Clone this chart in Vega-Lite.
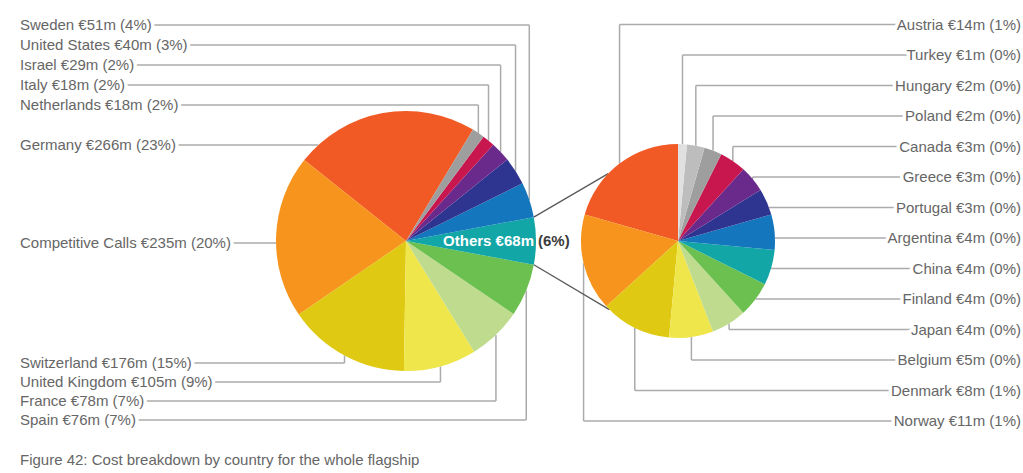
{
  "$schema": "https://vega.github.io/schema/vega-lite/v6.json",
  "width": 1023,
  "height": 473,
  "autosize": {"type": "fit", "contains": "padding"},
  "padding": 0,
  "background": "white",
  "config": {"view": {"stroke": null}, "text": {"font": "Liberation Sans"}},
  "params": [
    {"name": "cx1", "value": 406},
    {"name": "cx2", "value": 678},
    {"name": "cyc", "value": 241},
    {"name": "r1", "value": 130},
    {"name": "r2", "value": 97},
    {"name": "startMain", "value": 0.5415},
    {"name": "startOthers", "value": 6.2832},
    {"name": "joinUpper", "value": 5.48},
    {"name": "joinLower", "value": 3.927}
  ],
  "layer": [
    {
      "data": {
        "values": [
          {"pie": "main", "country": "Germany", "value": 266, "pct": 23, "rank": 0, "slot": 5},
          {"pie": "main", "country": "Competitive Calls", "value": 235, "pct": 20, "rank": 1, "slot": 6},
          {"pie": "main", "country": "Switzerland", "value": 176, "pct": 15, "rank": 2, "slot": 7},
          {"pie": "main", "country": "United Kingdom", "value": 105, "pct": 9, "rank": 3, "slot": 8},
          {"pie": "main", "country": "France", "value": 78, "pct": 7, "rank": 4, "slot": 9},
          {"pie": "main", "country": "Spain", "value": 76, "pct": 7, "rank": 5, "slot": 10},
          {"pie": "main", "country": "Others", "value": 68, "pct": 6, "rank": 6, "slot": null},
          {"pie": "main", "country": "Sweden", "value": 51, "pct": 4, "rank": 7, "slot": 0},
          {"pie": "main", "country": "United States", "value": 40, "pct": 3, "rank": 8, "slot": 1},
          {"pie": "main", "country": "Israel", "value": 29, "pct": 2, "rank": 9, "slot": 2},
          {"pie": "main", "country": "Italy", "value": 18, "pct": 2, "rank": 10, "slot": 3},
          {"pie": "main", "country": "Netherlands", "value": 18, "pct": 2, "rank": 11, "slot": 4},
          {"pie": "others", "country": "Austria", "value": 14, "pct": 1, "rank": 0, "slot": 0},
          {"pie": "others", "country": "Norway", "value": 11, "pct": 1, "rank": 1, "slot": 13},
          {"pie": "others", "country": "Denmark", "value": 8, "pct": 1, "rank": 2, "slot": 12},
          {"pie": "others", "country": "Belgium", "value": 5, "pct": 0, "rank": 3, "slot": 11},
          {"pie": "others", "country": "Japan", "value": 4, "pct": 0, "rank": 4, "slot": 10},
          {"pie": "others", "country": "Finland", "value": 4, "pct": 0, "rank": 5, "slot": 9},
          {"pie": "others", "country": "China", "value": 4, "pct": 0, "rank": 6, "slot": 8},
          {"pie": "others", "country": "Argentina", "value": 4, "pct": 0, "rank": 7, "slot": 7},
          {"pie": "others", "country": "Portugal", "value": 3, "pct": 0, "rank": 8, "slot": 6},
          {"pie": "others", "country": "Greece", "value": 3, "pct": 0, "rank": 9, "slot": 5},
          {"pie": "others", "country": "Canada", "value": 3, "pct": 0, "rank": 10, "slot": 4},
          {"pie": "others", "country": "Poland", "value": 2, "pct": 0, "rank": 11, "slot": 3},
          {"pie": "others", "country": "Hungary", "value": 2, "pct": 0, "rank": 12, "slot": 2},
          {"pie": "others", "country": "Turkey", "value": 1, "pct": 0, "rank": 13, "slot": 1}
        ]
      },
      "transform": [
        {"joinaggregate": [{"op": "sum", "field": "value", "as": "total"}], "groupby": ["pie"]},
        {"window": [{"op": "sum", "field": "value", "as": "cum"}], "groupby": ["pie"], "sort": [{"field": "rank", "order": "ascending"}], "frame": [null, 0]},
        {"calculate": "datum.pie === 'main' ? startMain : startOthers", "as": "anchor"},
        {"calculate": "datum.anchor - datum.cum / datum.total * 2 * PI", "as": "t0"},
        {"calculate": "datum.anchor - (datum.cum - datum.value) / datum.total * 2 * PI", "as": "t1"},
        {"calculate": "(datum.t0 + datum.t1) / 2", "as": "mid"},
        {"calculate": "datum.pie === 'main' ? cx1 : cx2", "as": "cx"},
        {"calculate": "cyc", "as": "cy"},
        {"calculate": "datum.pie === 'main' ? r1 : r2", "as": "r"},
        {"calculate": "datum.cx + datum.r * sin(datum.mid)", "as": "ex"},
        {"calculate": "datum.cy - datum.r * cos(datum.mid)", "as": "ey"},
        {"calculate": "datum.pie === 'main' ? (datum.slot <= 4 ? 25 + datum.slot * 20 : datum.slot === 5 ? 145 : datum.slot === 6 ? 243 : 363 + (datum.slot - 7) * 19) : 24.5 + datum.slot * 30.5", "as": "ly"},
        {"calculate": "datum.pie === 'main' ? 20 : 1021", "as": "lx"},
        {"calculate": "datum.ly - datum.cy", "as": "dy"},
        {"calculate": "pow(datum.ex - datum.cx, 2) + pow(datum.dy, 2) < datum.r * datum.r", "as": "inside"},
        {"calculate": "datum.inside ? datum.cx + (datum.ex < datum.cx ? -1 : 1) * sqrt(datum.r * datum.r - datum.dy * datum.dy) : datum.ex", "as": "vx"},
        {"calculate": "datum.inside ? datum.ly : datum.ey", "as": "vy"},
        {"calculate": "datum.country + ' €' + datum.value + 'm (' + datum.pct + '%)'", "as": "label"}
      ],
      "layer": [
        {
          "transform": [{"filter": "isValid(datum.slot)"}],
          "mark": {"type": "rule", "color": "#ababab", "strokeWidth": 1.5},
          "encoding": {
            "x": {"field": "lx", "type": "quantitative", "scale": {"domain": [0, 1023], "nice": false, "zero": false}, "axis": null},
            "x2": {"field": "vx"},
            "y": {"field": "ly", "type": "quantitative", "scale": {"domain": [0, 473], "reverse": true, "nice": false, "zero": false}, "axis": null}
          }
        },
        {
          "transform": [{"filter": "isValid(datum.slot)"}],
          "mark": {"type": "rule", "color": "#ababab", "strokeWidth": 1.5},
          "encoding": {
            "x": {"field": "vx", "type": "quantitative", "scale": {"domain": [0, 1023], "nice": false, "zero": false}, "axis": null},
            "y": {"field": "ly", "type": "quantitative", "scale": {"domain": [0, 473], "reverse": true, "nice": false, "zero": false}, "axis": null},
            "y2": {"field": "vy"}
          }
        },
        {
          "transform": [
            {"filter": "datum.country === 'Others'"},
            {"calculate": "cx1 + r1 * sin(datum.t0)", "as": "jx0"},
            {"calculate": "cyc - r1 * cos(datum.t0)", "as": "jy0"},
            {"calculate": "cx2 + r2 * sin(joinUpper)", "as": "jx1"},
            {"calculate": "cyc - r2 * cos(joinUpper)", "as": "jy1"}
          ],
          "mark": {"type": "rule", "color": "#5a5a5a", "strokeWidth": 1.3},
          "encoding": {
            "x": {"field": "jx0", "type": "quantitative", "scale": {"domain": [0, 1023], "nice": false, "zero": false}, "axis": null},
            "y": {"field": "jy0", "type": "quantitative", "scale": {"domain": [0, 473], "reverse": true, "nice": false, "zero": false}, "axis": null},
            "x2": {"field": "jx1"},
            "y2": {"field": "jy1"}
          }
        },
        {
          "transform": [
            {"filter": "datum.country === 'Others'"},
            {"calculate": "cx1 + r1 * sin(datum.t1)", "as": "jx0"},
            {"calculate": "cyc - r1 * cos(datum.t1)", "as": "jy0"},
            {"calculate": "cx2 + r2 * sin(joinLower)", "as": "jx1"},
            {"calculate": "cyc - r2 * cos(joinLower)", "as": "jy1"}
          ],
          "mark": {"type": "rule", "color": "#5a5a5a", "strokeWidth": 1.3},
          "encoding": {
            "x": {"field": "jx0", "type": "quantitative", "scale": {"domain": [0, 1023], "nice": false, "zero": false}, "axis": null},
            "y": {"field": "jy0", "type": "quantitative", "scale": {"domain": [0, 473], "reverse": true, "nice": false, "zero": false}, "axis": null},
            "x2": {"field": "jx1"},
            "y2": {"field": "jy1"}
          }
        },
        {
          "mark": {"type": "arc", "stroke": null},
          "encoding": {
            "x": {"field": "cx", "type": "quantitative", "scale": {"domain": [0, 1023], "nice": false, "zero": false}, "axis": null},
            "y": {"field": "cy", "type": "quantitative", "scale": {"domain": [0, 473], "reverse": true, "nice": false, "zero": false}, "axis": null},
            "theta": {"field": "t0", "type": "quantitative", "scale": null},
            "theta2": {"field": "t1"},
            "radius": {"field": "r", "type": "quantitative", "scale": null},
            "color": {
              "field": "rank",
              "type": "ordinal",
              "legend": null,
              "scale": {
                "domain": [0, 1, 2, 3, 4, 5, 6, 7, 8, 9, 10, 11, 12, 13],
                "range": ["#f15a24", "#f7941e", "#dfc912", "#efe64c", "#bedb8e", "#6cc04f", "#12a6a6", "#1477be", "#2e3591", "#6a2a8c", "#c8174f", "#9e9e9e", "#bdbdbd", "#e0e0e0"]
              }
            },
            "tooltip": [{"field": "country"}, {"field": "value", "title": "€m"}]
          }
        },
        {
          "transform": [{"filter": "datum.pie === 'main' && isValid(datum.slot)"}],
          "mark": {"type": "text", "align": "left", "baseline": "middle", "fontSize": 15, "color": "white", "stroke": "white", "strokeWidth": 7, "strokeJoin": "round"},
          "encoding": {
            "x": {"field": "lx", "type": "quantitative", "scale": {"domain": [0, 1023], "nice": false, "zero": false}, "axis": null},
            "y": {"field": "ly", "type": "quantitative", "scale": {"domain": [0, 473], "reverse": true, "nice": false, "zero": false}, "axis": null},
            "text": {"field": "label"}
          }
        },
        {
          "transform": [{"filter": "datum.pie === 'main' && isValid(datum.slot)"}],
          "mark": {"type": "text", "align": "left", "baseline": "middle", "fontSize": 15, "color": "#666666"},
          "encoding": {
            "x": {"field": "lx", "type": "quantitative", "scale": {"domain": [0, 1023], "nice": false, "zero": false}, "axis": null},
            "y": {"field": "ly", "type": "quantitative", "scale": {"domain": [0, 473], "reverse": true, "nice": false, "zero": false}, "axis": null},
            "text": {"field": "label"}
          }
        },
        {
          "transform": [{"filter": "datum.pie === 'others'"}],
          "mark": {"type": "text", "align": "right", "baseline": "middle", "fontSize": 15, "color": "white", "stroke": "white", "strokeWidth": 7, "strokeJoin": "round"},
          "encoding": {
            "x": {"field": "lx", "type": "quantitative", "scale": {"domain": [0, 1023], "nice": false, "zero": false}, "axis": null},
            "y": {"field": "ly", "type": "quantitative", "scale": {"domain": [0, 473], "reverse": true, "nice": false, "zero": false}, "axis": null},
            "text": {"field": "label"}
          }
        },
        {
          "transform": [{"filter": "datum.pie === 'others'"}],
          "mark": {"type": "text", "align": "right", "baseline": "middle", "fontSize": 15, "color": "#666666"},
          "encoding": {
            "x": {"field": "lx", "type": "quantitative", "scale": {"domain": [0, 1023], "nice": false, "zero": false}, "axis": null},
            "y": {"field": "ly", "type": "quantitative", "scale": {"domain": [0, 473], "reverse": true, "nice": false, "zero": false}, "axis": null},
            "text": {"field": "label"}
          }
        },
        {
          "transform": [
            {"filter": "datum.country === 'Others'"},
            {"calculate": "datum.country + ' €' + datum.value + 'm'", "as": "head"}
          ],
          "mark": {"type": "text", "align": "right", "baseline": "middle", "fontSize": 15, "fontWeight": "bold", "color": "white", "dx": -2},
          "encoding": {
            "x": {"field": "ex", "type": "quantitative", "scale": {"domain": [0, 1023], "nice": false, "zero": false}, "axis": null},
            "y": {"field": "ey", "type": "quantitative", "scale": {"domain": [0, 473], "reverse": true, "nice": false, "zero": false}, "axis": null},
            "text": {"field": "head"}
          }
        },
        {
          "transform": [
            {"filter": "datum.country === 'Others'"},
            {"calculate": "'(' + datum.pct + '%)'", "as": "tail"}
          ],
          "mark": {"type": "text", "align": "left", "baseline": "middle", "fontSize": 15, "fontWeight": "bold", "color": "#3c3c3c", "dx": 2},
          "encoding": {
            "x": {"field": "ex", "type": "quantitative", "scale": {"domain": [0, 1023], "nice": false, "zero": false}, "axis": null},
            "y": {"field": "ey", "type": "quantitative", "scale": {"domain": [0, 473], "reverse": true, "nice": false, "zero": false}, "axis": null},
            "text": {"field": "tail"}
          }
        }
      ]
    },
    {
      "data": {"values": [{"caption": "Figure 42: Cost breakdown by country for the whole flagship"}]},
      "mark": {"type": "text", "align": "left", "baseline": "middle", "fontSize": 15, "color": "#666666"},
      "encoding": {
        "x": {"datum": 20, "type": "quantitative", "scale": {"domain": [0, 1023], "nice": false, "zero": false}, "axis": null},
        "y": {"datum": 460, "type": "quantitative", "scale": {"domain": [0, 473], "reverse": true, "nice": false, "zero": false}, "axis": null},
        "text": {"field": "caption"}
      }
    }
  ]
}
